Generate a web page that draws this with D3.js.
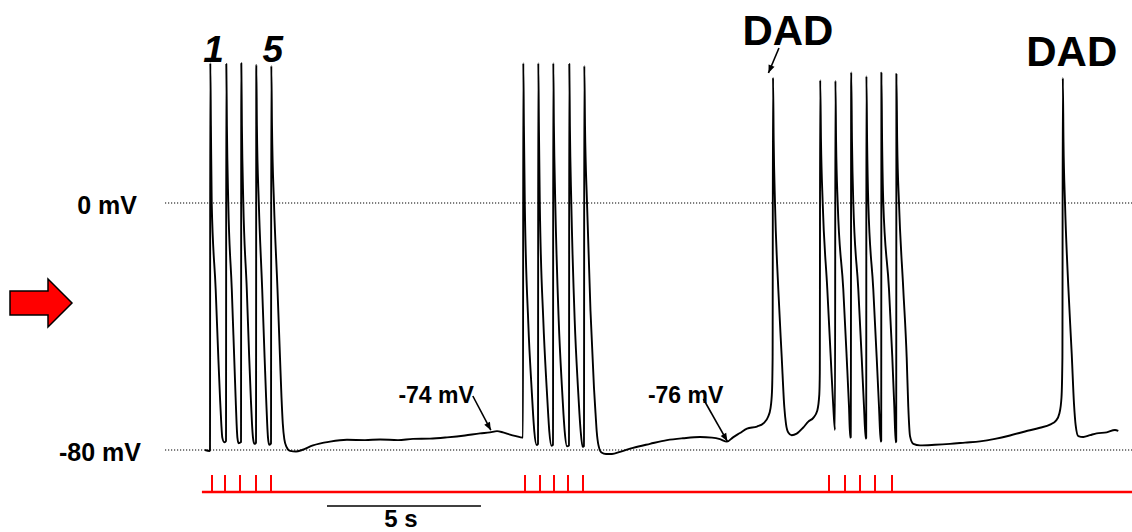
<!DOCTYPE html>
<html>
<head>
<meta charset="utf-8">
<script src="https://cdn.jsdelivr.net/npm/d3@7"></script>
<style>
  html, body { margin: 0; padding: 0; background: #fff; }
  svg { display: block; }
  text { font-family: "Liberation Sans", Arial, sans-serif; font-weight: bold; fill: #000; }
</style>
</head>
<body>
<svg id="chart" width="1132" height="532"></svg>
<script>
// Membrane potential trace, split by episode: [time (s), potential (mV)]
const train1 = [
  [0.000,-80],[0.149,-80.3],[0.162,-80],[0.172,45.3],[0.192,25],[0.218,0],[0.347,-28],[0.432,-50],
  [0.487,-63],[0.529,-71.5],[0.562,-76],[0.627,-77.5],[0.672,-77.2],
  [0.682,-77],[0.692,45],[0.711,25],[0.756,0],[0.870,-28],[0.948,-50],[0.994,-63],[1.026,-71.5],
  [1.052,-76],[1.091,-77.8],[1.159,-77.5],
  [1.169,-77.3],[1.179,45.3],[1.198,25],[1.244,0],[1.357,-28],[1.435,-50],[1.487,-63],[1.526,-71.5],
  [1.558,-76],[1.601,-78],[1.646,-77.8],
  [1.656,-77.6],[1.666,44.7],[1.685,25],[1.747,0],[1.857,-28],[1.935,-50],[1.984,-63],[2.019,-71.5],
  [2.045,-76],[2.084,-78.3],[2.133,-78],
  [2.143,-77.8],[2.153,44.4],[2.175,25],[2.240,0],[2.354,-28],[2.435,-50],[2.484,-63],[2.526,-71.5],
  [2.575,-76.5],[2.646,-79],[2.760,-80.3],[2.955,-80.5],[3.149,-80]
];
const rest1 = [
  [3.506,-78.5],[4.058,-77.3],[4.610,-76.7],[5.195,-76.8],[5.682,-76.6],[6.266,-76.8],[6.753,-76.4],
  [7.305,-76.3],[7.857,-75.9],[8.442,-75.3],[8.929,-74.6],[9.253,-74.3],[9.481,-73.9],[9.675,-74.3],
  [9.903,-75],[10.097,-75.5],[10.312,-76]
];
const train2 = [
  [10.325,-76],[10.334,45.3],[10.354,25],[10.383,0],[10.497,-39],[10.607,-60.6],[10.656,-69],
  [10.692,-74],[10.769,-78.4],[10.802,-78.2],
  [10.812,-78],[10.821,45.3],[10.841,25],[10.870,0],[10.984,-38],[11.094,-60],[11.143,-68.5],
  [11.179,-74],[11.250,-78.6],[11.289,-78.4],
  [11.299,-78.3],[11.308,45.3],[11.328,25],[11.373,0],[11.484,-38],[11.591,-60],[11.640,-68.5],
  [11.679,-74],[11.753,-78.8],[11.808,-78.6],
  [11.818,-78.5],[11.828,45],[11.847,25],[11.893,0],[12.003,-38],[12.110,-60],[12.159,-68.5],
  [12.198,-74],[12.260,-79],[12.295,-78.8],
  [12.305,-78.7],[12.315,44.4],[12.338,25],[12.403,0],[12.516,-35],[12.630,-60],[12.679,-68],
  [12.718,-74],[12.776,-78.5],[12.873,-80.8],[13.019,-81.3],[13.214,-81.3],[13.474,-80.6]
];
const rest2 = [
  [13.896,-79.3],[14.448,-78],[15.000,-76.8],[15.519,-76.2],[16.071,-75.8],[16.461,-76],[16.721,-76.5],
  [16.948,-77.3],[17.143,-75.9],[17.370,-74.5],[17.597,-73.1],[17.922,-72.4],[18.149,-71.2],
  [18.279,-69.3],[18.360,-66.5],[18.409,-61]
];
const dad1 = [
  [18.429,-50],[18.442,40.6],[18.464,20],[18.506,0],[18.614,-28],[18.724,-49.8],[18.808,-66],
  [18.864,-71.6],[18.938,-74.3],[19.049,-75.2],[19.211,-74.7],[19.416,-72.8],[19.588,-70.8],
  [19.750,-69.6],[19.880,-67.2],[19.945,-62]
];
const train3 = [
  [19.961,-55],[19.974,39.8],[20.000,20],[20.055,0],[20.205,-28],[20.315,-49.8],[20.399,-66],[20.455,-73.5],
  [20.468,39.6],[20.490,20],[20.542,0],[20.724,-28],[20.834,-50],[20.909,-66],[20.948,-76],[20.968,-75.8],
  [20.981,42.3],[21.006,20],[21.049,0],[21.211,-28],[21.321,-50],[21.396,-66],[21.451,-76.3],[21.468,-76],
  [21.474,41.1],[21.497,20],[21.536,0],[21.698,-28],[21.808,-50],[21.883,-66],[21.938,-77.3],[21.955,-77],
  [21.961,42.2],[21.984,20],[22.023,0],[22.208,-28],[22.315,-50],[22.380,-66],[22.425,-77.5],[22.442,-77.2],
  [22.448,41.8],[22.474,20],[22.532,0],[22.672,-28],[22.782,-50],[22.834,-66],[22.890,-75.5],
  [22.997,-78],[23.214,-78.5]
];
const rest3 = [
  [23.701,-78.3],[24.188,-78],[24.675,-77.6],[25.162,-77.2],[25.649,-76.4],[26.136,-75.3],
  [26.623,-74],[27.110,-72.8],[27.435,-71.8],[27.630,-70.5],[27.744,-68],[27.808,-63]
];
const dad2 = [
  [27.838,-50],[27.851,40.5],[27.873,20],[27.922,0],[28.029,-27],[28.140,-48.8],[28.214,-65],
  [28.269,-72],[28.354,-75.5],[28.516,-75.8],[28.734,-75.2],[28.951,-74.6],[29.276,-74.3],
  [29.545,-73.5],[29.653,-73.8]
];

// Stimulus pulse times (s)
const stimTimes = [
  0.227, 0.649, 1.136, 1.656, 2.143,
  10.390, 10.877, 11.331, 11.786, 12.273,
  20.260, 20.779, 21.266, 21.753, 22.305
];

// Reference potentials drawn as dotted lines
const refLevels = [0, -80];
const refLabels = ["0 mV", "-80 mV"];

// Time scale bar
const scaleBarStart = 3.96;
const scaleBarLength = 5;
const scaleBarLabel = "5 s";

// Numbered pulses and event labels
const pulseLabels = [[0.28, "1"], [2.20, "5"]];
const dadLabels = [[18.44, "DAD"], [27.85, "DAD"]];
const restLabels = [[9.28, -73.6, "-74 mV"], [16.96, -77.2, "-76 mV"]];

const svg = d3.select("#chart");
const x = d3.scaleLinear().domain([0, 30]).range([205, 1129]);
const y = d3.scaleLinear().domain([-80, 0]).range([450, 203]);

// Arrowhead marker for annotations
svg.append("defs").append("marker")
  .attr("id", "head")
  .attr("viewBox", "0 0 10 10")
  .attr("refX", 10).attr("refY", 5)
  .attr("markerWidth", 10).attr("markerHeight", 8)
  .attr("markerUnits", "userSpaceOnUse")
  .attr("orient", "auto")
  .append("path").attr("d", "M0,1 L10,5 L0,9 Z").attr("fill", "#000");

// Dotted reference lines and their labels
svg.selectAll("line.ref").data(refLevels).join("line")
  .attr("class", "ref")
  .attr("x1", 165).attr("x2", 1132)
  .attr("y1", d => y(d)).attr("y2", d => y(d))
  .attr("stroke", "#000").attr("stroke-width", 1.2)
  .attr("stroke-dasharray", "1.2,1.8");
svg.selectAll("text.ref").data(refLevels).join("text")
  .attr("class", "ref")
  .attr("x", (d, i) => i === 0 ? 137 : 141)
  .attr("y", d => y(d) + 11)
  .attr("text-anchor", "end")
  .attr("font-size", 25)
  .text((d, i) => refLabels[i]);

// Red block arrow (left side)
svg.append("polygon")
  .attr("points", "10,291 48,291 48,279 72,303 48,327 48,315 10,315")
  .attr("fill", "#ff0000").attr("stroke", "#000").attr("stroke-width", 1.5)
  .attr("stroke-linejoin", "miter");

// Voltage trace
const trace = [].concat(train1, rest1, train2, rest2, dad1, train3, rest3, dad2);
const line = d3.line().x(d => x(d[0])).y(d => y(d[1])).curve(d3.curveMonotoneX);
svg.append("path")
  .attr("d", line(trace))
  .attr("fill", "none")
  .attr("stroke", "#000")
  .attr("stroke-width", 1.9)
  .attr("stroke-linejoin", "round");

// Stimulus protocol
const stimY = 492, stimTop = 475;
svg.append("line")
  .attr("x1", x(-0.1)).attr("x2", 1132)
  .attr("y1", stimY).attr("y2", stimY)
  .attr("stroke", "#ff0000").attr("stroke-width", 2.6);
svg.selectAll("line.stim").data(stimTimes).join("line")
  .attr("class", "stim")
  .attr("x1", d => x(d)).attr("x2", d => x(d))
  .attr("y1", stimY).attr("y2", stimTop)
  .attr("stroke", "#ff0000").attr("stroke-width", 2);

// Scale bar
svg.append("line")
  .attr("x1", x(scaleBarStart)).attr("x2", x(scaleBarStart + scaleBarLength))
  .attr("y1", 506).attr("y2", 506)
  .attr("stroke", "#000").attr("stroke-width", 1.6);
svg.append("text")
  .attr("x", x(scaleBarStart + scaleBarLength / 2) - 3)
  .attr("y", 527)
  .attr("text-anchor", "middle")
  .attr("font-size", 24)
  .text(scaleBarLabel);

// Pulse numbers
svg.selectAll("text.pulse").data(pulseLabels).join("text")
  .attr("class", "pulse")
  .attr("x", d => x(d[0]))
  .attr("y", 62)
  .attr("text-anchor", "middle")
  .attr("font-size", 37)
  .attr("font-style", "italic")
  .text(d => d[1]);

// DAD labels
svg.append("text")
  .attr("x", x(dadLabels[0][0]) + 15).attr("y", 45)
  .attr("text-anchor", "middle").attr("font-size", 42)
  .text(dadLabels[0][1]);
svg.append("line")
  .attr("x1", x(dadLabels[0][0]) + 6).attr("y1", 48)
  .attr("x2", x(dadLabels[0][0]) - 4.5).attr("y2", 73)
  .attr("stroke", "#000").attr("stroke-width", 1.6)
  .attr("marker-end", "url(#head)");
svg.append("text")
  .attr("x", x(dadLabels[1][0]) + 9).attr("y", 66)
  .attr("text-anchor", "middle").attr("font-size", 42)
  .text(dadLabels[1][1]);

// Resting potential annotations with arrows
const restG = svg.selectAll("g.rest").data(restLabels).join("g").attr("class", "rest");
restG.append("text")
  .attr("x", (d, i) => i === 0 ? x(d[0]) - 17 : x(d[0]) - 4)
  .attr("y", 403)
  .attr("text-anchor", "end")
  .attr("font-size", 23)
  .text(d => d[2]);
restG.append("line")
  .attr("x1", (d, i) => i === 0 ? x(d[0]) - 18 : x(d[0]) - 24)
  .attr("y1", (d, i) => i === 0 ? 396 : 399)
  .attr("x2", d => x(d[0]))
  .attr("y2", d => y(d[1]))
  .attr("stroke", "#000").attr("stroke-width", 1.6)
  .attr("marker-end", "url(#head)");
</script>
</body>
</html>
